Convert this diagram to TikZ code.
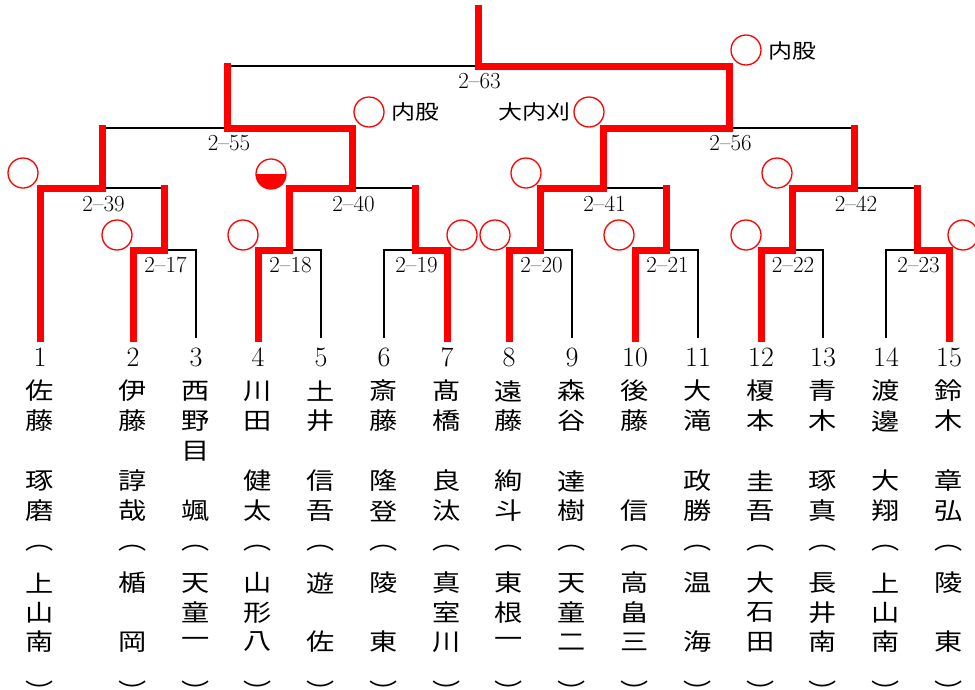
\documentclass[tikz,border=0pt]{standalone}
\usepackage{fontspec}
\newfontfamily\cjk[FakeStretch=1.2]{Noto Sans CJK JP}
\tikzset{
  base/.style={line width=2.5pt, black},
  win/.style={line width=7pt, red, line cap=rect},
  score/.style={inner sep=0pt, font=\fontsize{23}{25}\selectfont},
  num/.style={inner sep=0pt, font=\fontsize{28}{30}\selectfont},
  kanji/.style={inner sep=0pt, font=\cjk\fontsize{23.5}{28}\selectfont},
  waza/.style={inner sep=0pt, font=\cjk\fontsize{20}{24}\selectfont},
  winmark/.style={circle, draw=red, line width=1.3pt, minimum size=30pt, inner sep=0pt},
  halfmark/.style={winmark, path picture={\fill[red] (path picture bounding box.west) rectangle (path picture bounding box.south east);}}
}
\begin{document}
\begin{tikzpicture}[x=1pt,y=-1pt]
\useasboundingbox (0,0) rectangle (975,689);
% leaves and match points
\foreach \n/\x in {1/40,2/133,3/196,4/258,5/321,6/384,7/447,8/509,9/572,10/635,11/698,12/761,13/823,14/886,15/949}
  \coordinate (c\n) at (\x,338);
\coordinate (m17) at (164.5,250);
\coordinate (m18) at (289.5,250);
\coordinate (m19) at (415.5,250);
\coordinate (m20) at (540.5,250);
\coordinate (m21) at (666.5,250);
\coordinate (m22) at (792,250);
\coordinate (m23) at (917.5,250);
\coordinate (m39) at (102.25,188);
\coordinate (m40) at (352.5,188);
\coordinate (m41) at (603.5,188);
\coordinate (m42) at (854.75,188);
\coordinate (m55) at (227.4,128);
\coordinate (m56) at (729.1,128);
\coordinate (m63) at (478.25,66);
\coordinate (top) at (478.25,8);

% bracket
\draw[base] (c2) |- (m17) -| (c3);
\draw[base] (c4) |- (m18) -| (c5);
\draw[base] (c6) |- (m19) -| (c7);
\draw[base] (c8) |- (m20) -| (c9);
\draw[base] (c10) |- (m21) -| (c11);
\draw[base] (c12) |- (m22) -| (c13);
\draw[base] (c14) |- (m23) -| (c15);
\draw[base] (c1) |- (m39) -| (m17);
\draw[base] (m18) |- (m40) -| (m19);
\draw[base] (m20) |- (m41) -| (m21);
\draw[base] (m22) |- (m42) -| (m23);
\draw[base] (m39) |- (m55) -| (m40);
\draw[base] (m41) |- (m56) -| (m42);
\draw[base] (m55) |- (m63) -| (m56);
\draw[base] (m63) -- (top);

% winners
\draw[win] (c1) |- (m39) -- (m39 |- m55);
\draw[win] (c2) |- (m17) -- (m17 |- m39);
\draw[win] (c4) |- (m18) |- (m40) |- (m55) -- (m55 |- m63);
\draw[win] (c7) |- (m19) -- (m19 |- m40);
\draw[win] (c8) |- (m20) |- (m41) |- (m56) |- (m63) -- (top);
\draw[win] (c10) |- (m21) -- (m21 |- m41);
\draw[win] (c12) |- (m22) |- (m42) -- (m42 |- m56);
\draw[win] (c15) |- (m23) -- (m23 |- m42);

% match numbers
\foreach \m/\x/\y in {17/165.5/265,18/290.5/265,19/416.5/265,20/541.5/265,21/667.5/265,22/793/265,23/918.5/265,
    39/103.5/204,40/353.5/204,41/604.5/204,42/856/204,55/229/143,56/730.5/143,63/479.5/81}
  \node[score] (l\m) at (\x,\y) {2--\m};

% results
\node[winmark] (k17) at (117,235) {};
\node[winmark] (k18) at (243,235) {};
\node[winmark] (k19) at (462,235) {};
\node[winmark] (k20) at (495,235) {};
\node[winmark] (k21) at (619,235) {};
\node[winmark] (k22) at (746,235) {};
\node[winmark] (k23) at (963,235) {};
\node[winmark] (k39) at (23,173) {};
\node[halfmark] (k40) at (271,174) {};
\node[winmark] (k41) at (526,173) {};
\node[winmark] (k42) at (777,173) {};
\node[winmark] (k55) at (369,112) {};
\node[winmark] (k56) at (589,112) {};
\node[winmark] (k63) at (746,50) {};
\node[waza] (t55) at (415,112) {内股};
\node[waza] (t56) at (534.5,112) {大内刈};
\node[waza] (t63) at (792,51) {内股};

% players
\foreach \n/\x/\nm/\sc in {
  1/40/{佐,藤,{},琢,磨}/{上,山,南},
  2/133/{伊,藤,{},諄,哉}/{楯,{},岡},
  3/196/{西,野,目,{},颯}/{天,童,一},
  4/258/{川,田,{},健,太}/{山,形,八},
  5/321/{土,井,{},信,吾}/{遊,{},佐},
  6/384/{斎,藤,{},隆,登}/{陵,{},東},
  7/447/{髙,橋,{},良,汰}/{真,室,川},
  8/509/{遠,藤,{},絢,斗}/{東,根,一},
  9/572/{森,谷,{},達,樹}/{天,童,二},
  10/635/{後,藤,{},{},信}/{高,畠,三},
  11/698/{大,滝,{},政,勝}/{温,{},海},
  12/761/{榎,本,{},圭,吾}/{大,石,田},
  13/823/{青,木,{},琢,真}/{長,井,南},
  14/886/{渡,邊,{},大,翔}/{上,山,南},
  15/949/{鈴,木,{},章,弘}/{陵,{},東}}{
  \node[num] (n\n) at (\x,357) {\n};
  \foreach \ch [count=\k] in \nm
    \node[kanji] (nm\n-\k) at (\x,{391+30*(\k-1)}) {\ch};
  \node[kanji] (op\n) at (\x,544.5) {\smash{\raisebox{-5pt}{︵}}};
  \foreach \ch [count=\k] in \sc
    \node[kanji] (sc\n-\k) at (\x,{583+29.5*(\k-1)}) {\ch};
  \node[kanji] (cl\n) at (\x,683) {\smash{\raisebox{-17pt}{︶}}};
}
\end{tikzpicture}
\end{document}
